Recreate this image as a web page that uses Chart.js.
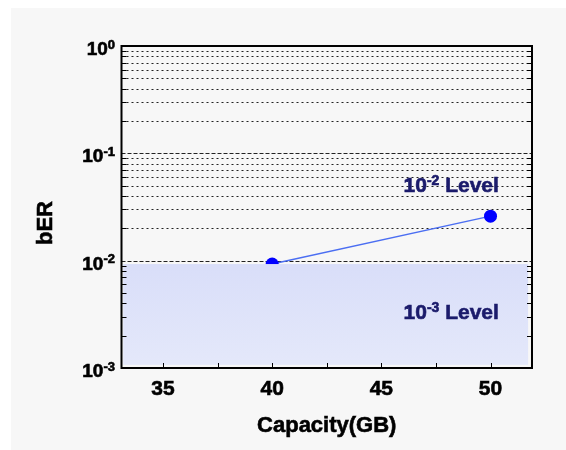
<!DOCTYPE html>
<html>
<head>
<meta charset="utf-8">
<script src="https://cdn.jsdelivr.net/npm/chart.js@4.4.1/dist/chart.umd.min.js"></script>
<style>
  html, body { margin: 0; padding: 0; background: #fff; }
  .panel { position: absolute; left: 11px; top: 8px; width: 555px; height: 442px; background: #f7f7f7; }
</style>
</head>
<body>
<div class="panel"><canvas id="chart" width="555" height="442"></canvas></div>
<script>
// data
const capacity = [40, 50];
const ber = [0.0093, 0.026];

const xTicks = [35, 37.5, 40, 42.5, 45, 47.5, 50];
const xLabels = [35, 40, 45, 50];
const yDecades = [-3, -2, -1, 0];
const yMinor = [2, 3, 4, 5, 6, 7, 8, 9];

// shaded "10^-3 level" zone and the two notes
const band = { xMin: 33.18, xMax: 51.72, yMin: 0.00107, yMax: 0.0093 };
const notes = [
  { exp: '-2', text: ' Level', x: 48.2, y: 0.0437 },
  { exp: '-3', text: ' Level', x: 48.2, y: 0.00287 }
];

const FONT = '"Liberation Sans", Arial, sans-serif';

function hline(ctx, a, py, dash) {
  ctx.setLineDash(dash);
  ctx.beginPath();
  ctx.moveTo(a.left, py);
  ctx.lineTo(a.right, py);
  ctx.stroke();
}

// bold text with a thin outline so it reads as heavy as the original
function heavy(ctx, s, x, y) {
  ctx.fillText(s, x, y);
  ctx.strokeText(s, x, y);
}

// "10" with a raised exponent, optional trailing text
function powText(ctx, x, y, exp, mainPx, supPx, rest, align) {
  const main = `bold ${mainPx}px ${FONT}`;
  const sup = `bold ${supPx}px ${FONT}`;
  ctx.font = main; const w1 = ctx.measureText('10').width;
  ctx.font = sup; const w2 = ctx.measureText(exp).width;
  ctx.font = main; const w3 = rest ? ctx.measureText(rest).width : 0;
  const total = w1 + w2 + w3;
  const x0 = align === 'right' ? x - total : align === 'center' ? x - total / 2 : x;
  ctx.textAlign = 'left';
  ctx.textBaseline = 'alphabetic';
  ctx.font = main; heavy(ctx, '10', x0, y);
  ctx.font = sup; heavy(ctx, exp, x0 + w1, y - mainPx * 0.34);
  if (rest) { ctx.font = main; heavy(ctx, rest, x0 + w1 + w2, y); }
}

const frame = {
  id: 'frame',
  beforeDatasetsDraw(chart) {
    const { ctx, chartArea: a, scales: { y } } = chart;
    ctx.save();
    ctx.strokeStyle = '#222';
    ctx.lineWidth = 1;
    yDecades.forEach(p => {
      const base = Math.pow(10, p);
      if (p < 0) {
        yMinor.forEach(m => hline(ctx, a, Math.round(y.getPixelForValue(base * m)) + 0.5, [2, 3]));
      }
      if (p > -3 && p < 0) {
        hline(ctx, a, Math.round(y.getPixelForValue(base)) + 0.5, [4, 2]);
      }
    });
    ctx.restore();
  },
  afterDatasetsDraw(chart) {
    const { ctx, chartArea: a, scales: { x, y } } = chart;
    ctx.save();

    // shaded zone
    const bx0 = x.getPixelForValue(band.xMin), bx1 = x.getPixelForValue(band.xMax);
    const by0 = y.getPixelForValue(band.yMax), by1 = y.getPixelForValue(band.yMin);
    const g = ctx.createLinearGradient(0, by0, 0, by1);
    g.addColorStop(0, '#d9def9');
    g.addColorStop(1, '#e4e8fa');
    ctx.fillStyle = g;
    ctx.fillRect(bx0, by0, bx1 - bx0, by1 - by0);

    // tick marks
    ctx.strokeStyle = '#000';
    ctx.lineWidth = 1;
    ctx.setLineDash([]);
    ctx.beginPath();
    yDecades.forEach(p => {
      if (p === 0) return;
      yMinor.forEach(m => {
        const py = Math.round(y.getPixelForValue(Math.pow(10, p) * m)) + 0.5;
        ctx.moveTo(a.left, py); ctx.lineTo(a.left + 5, py);
        ctx.moveTo(a.right, py); ctx.lineTo(a.right - 5, py);
      });
    });
    xTicks.forEach(v => {
      const px = Math.round(x.getPixelForValue(v)) + 0.5;
      ctx.moveTo(px, a.bottom); ctx.lineTo(px, a.bottom - 5);
    });
    ctx.stroke();

    // frame
    ctx.lineWidth = 2;
    ctx.strokeRect(a.left, a.top, a.right - a.left, a.bottom - a.top);

    // tick labels
    ctx.fillStyle = '#000';
    ctx.strokeStyle = '#000';
    ctx.lineWidth = 0.6;
    yDecades.forEach(p => {
      const py = y.getPixelForValue(Math.pow(10, p));
      powText(ctx, a.left - 6.5, py + 9, String(p), 19, 13, '', 'right');
    });
    ctx.font = `bold 21px ${FONT}`;
    ctx.textAlign = 'center';
    ctx.textBaseline = 'alphabetic';
    xLabels.forEach(v => heavy(ctx, String(v), x.getPixelForValue(v), a.bottom + 27));

    // axis titles
    ctx.font = `bold 22px ${FONT}`;
    heavy(ctx, 'Capacity(GB)', (a.left + a.right) / 2, a.bottom + 64);
    ctx.save();
    ctx.translate(a.left - 70, (a.top + a.bottom) / 2 + 16);
    ctx.rotate(-Math.PI / 2);
    heavy(ctx, 'bER', 0, 0);
    ctx.restore();

    // level notes
    ctx.fillStyle = '#1b1b6b';
    ctx.strokeStyle = '#1b1b6b';
    notes.forEach(n => {
      powText(ctx, x.getPixelForValue(n.x), y.getPixelForValue(n.y), n.exp, 21, 14, n.text, 'center');
    });
    ctx.restore();
  }
};

const ctx = document.getElementById('chart').getContext('2d');
new Chart(ctx, {
  type: 'line',
  data: {
    datasets: [{
      data: capacity.map((c, i) => ({ x: c, y: ber[i] })),
      borderColor: '#4b6ef2',
      borderWidth: 1.5,
      pointRadius: 6.5,
      pointBackgroundColor: '#0000ff',
      pointBorderColor: '#0000ff',
      pointBorderWidth: 0
    }]
  },
  options: {
    responsive: false,
    animation: false,
    layout: { padding: { left: 110.5, top: 38, right: 34, bottom: 82 } },
    plugins: { legend: { display: false }, tooltip: { enabled: false } },
    scales: {
      x: { type: 'linear', min: 33.1, max: 51.9, display: false },
      y: { type: 'logarithmic', min: 0.001, max: 1, display: false }
    }
  },
  plugins: [frame]
});
</script>
</body>
</html>
